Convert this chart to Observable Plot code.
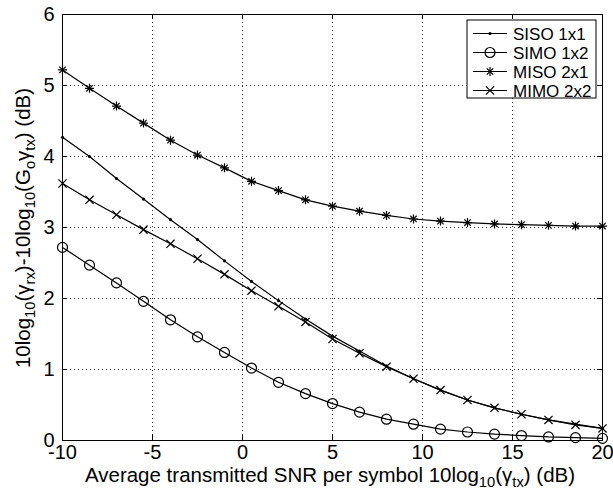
<!DOCTYPE html>
<html>
<head>
<meta charset="utf-8">
<script src="https://cdn.jsdelivr.net/npm/d3@7"></script>
<script src="https://cdn.jsdelivr.net/npm/@observablehq/plot@0.6"></script>
<style>
  html, body { margin: 0; padding: 0; background: #fff; }
  #chart svg { display: block; font-family: "Liberation Sans", Arial, Helvetica, sans-serif; }
</style>
</head>
<body>
<div id="chart"></div>
<script>
const snr = [-10, -8.5, -7, -5.5, -4, -2.5, -1, 0.5, 2, 3.5, 5, 6.5, 8, 9.5, 11, 12.5, 14, 15.5, 17, 18.5, 20];
const siso = [4.27, 4.00, 3.69, 3.40, 3.11, 2.83, 2.53, 2.24, 1.97, 1.71, 1.47, 1.26, 1.05, 0.87, 0.71, 0.57, 0.46, 0.37, 0.29, 0.23, 0.17];
const simo = [2.72, 2.47, 2.22, 1.96, 1.70, 1.46, 1.24, 1.02, 0.82, 0.66, 0.52, 0.40, 0.30, 0.23, 0.16, 0.12, 0.09, 0.07, 0.05, 0.04, 0.03];
const miso = [5.22, 4.96, 4.71, 4.47, 4.23, 4.02, 3.84, 3.65, 3.52, 3.39, 3.30, 3.23, 3.17, 3.12, 3.09, 3.07, 3.05, 3.04, 3.03, 3.02, 3.02];
const mimo = [3.62, 3.39, 3.18, 2.97, 2.77, 2.56, 2.34, 2.11, 1.89, 1.67, 1.43, 1.23, 1.04, 0.87, 0.71, 0.57, 0.46, 0.37, 0.29, 0.22, 0.17];
const seriesNames = ["SISO 1x1", "SIMO 1x2", "MISO 2x1", "MIMO 2x2"];
const xTicks = [-10, -5, 0, 5, 10, 15, 20];
const yTicks = [0, 1, 2, 3, 4, 5, 6];

const toRows = (vals) => snr.map((x, i) => ({x, y: vals[i]}));
const rSiso = toRows(siso), rSimo = toRows(simo), rMiso = toRows(miso), rMimo = toRows(mimo);

const FF = '"Liberation Sans", Arial, Helvetica, sans-serif';
const W = 613, H = 493;
const mL = 62, mR = 11, mT = 14, mB = 53;
const pw = W - mL - mR, ph = H - mT - mB;
const tk = 5;
const tickFont = 20;
const labFont = 20.5;

const plot = Plot.plot({
  width: W, height: H,
  marginLeft: mL, marginRight: mR, marginTop: mT, marginBottom: mB,
  style: {fontFamily: FF, background: "#fff", color: "#000"},
  x: {domain: [-10, 20], ticks: xTicks},
  y: {domain: [0, 6], ticks: yTicks},
  marks: [
    Plot.ruleX(xTicks.slice(1, -1), {stroke: "#000", strokeWidth: 0.8, strokeDasharray: "1,3"}),
    Plot.ruleY(yTicks.slice(1, -1), {stroke: "#000", strokeWidth: 0.8, strokeDasharray: "1,3"}),
    Plot.tickX(xTicks, {stroke: "#000", insetTop: ph - tk}),
    Plot.tickX(xTicks, {stroke: "#000", insetBottom: ph - tk}),
    Plot.tickY(yTicks, {stroke: "#000", insetRight: pw - tk}),
    Plot.tickY(yTicks, {stroke: "#000", insetLeft: pw - tk}),
    Plot.axisX({ticks: xTicks, tickSize: 0, tickPadding: 4, fontSize: tickFont, label: null, tickFormat: d => d}),
    Plot.axisY({ticks: yTicks, tickSize: 0, tickPadding: 8, fontSize: tickFont, label: null, tickFormat: d => d}),
    Plot.frame({stroke: "#000", strokeWidth: 1}),
    Plot.line(rMiso, {x: "x", y: "y", stroke: "#000", strokeWidth: 1.2}),
    Plot.dot(rMiso, {x: "x", y: "y", symbol: "plus", r: 3.0, stroke: "#000", strokeWidth: 1.2}),
    Plot.dot(rMiso, {x: "x", y: "y", symbol: "times", r: 3.0, stroke: "#000", strokeWidth: 1.2}),
    Plot.line(rSiso, {x: "x", y: "y", stroke: "#000", strokeWidth: 1.2}),
    Plot.dot(rSiso, {x: "x", y: "y", r: 1.6, fill: "#000", stroke: "none"}),
    Plot.line(rMimo, {x: "x", y: "y", stroke: "#000", strokeWidth: 1.2}),
    Plot.dot(rMimo, {x: "x", y: "y", symbol: "times", r: 3.8, stroke: "#000", strokeWidth: 1.2}),
    Plot.line(rSimo, {x: "x", y: "y", stroke: "#000", strokeWidth: 1.2}),
    Plot.dot(rSimo, {x: "x", y: "y", symbol: "circle", r: 5, stroke: "#000", fill: "none", strokeWidth: 1.2})
  ]
});

const svg = d3.select(plot);

// x-axis label
const xl = svg.append("text")
  .attr("x", 330).attr("y", 482)
  .attr("text-anchor", "middle")
  .attr("font-family", FF)
  .attr("font-size", labFont).attr("fill", "#000");
xl.append("tspan").text("Average transmitted SNR per symbol 10log");
xl.append("tspan").attr("font-size", labFont * 0.72).attr("dy", 5).text("10");
xl.append("tspan").attr("dy", -5).text("(γ");
xl.append("tspan").attr("font-size", labFont * 0.72).attr("dy", 5).text("tx");
xl.append("tspan").attr("dy", -5).text(") (dB)");

// y-axis label
const yl = svg.append("text")
  .attr("transform", `translate(30, 228) rotate(-90)`)
  .attr("text-anchor", "middle")
  .attr("font-family", FF)
  .attr("font-size", labFont).attr("fill", "#000");
const ypieces = [["10log", 0], ["10", 1], ["(γ", 0], ["rx", 1], [")-10log", 0], ["10", 1], ["(G", 0], ["o", 1], ["γ", 0], ["tx", 1], [") (dB)", 0]];
let prev = 0;
for (const [t, sub] of ypieces) {
  const ts = yl.append("tspan").text(t);
  const want = sub ? 5 : 0;
  ts.attr("dy", want - prev);
  if (sub) ts.attr("font-size", labFont * 0.72);
  prev = want;
}

// legend (decoration, pixel layout)
const lg = svg.append("g");
const lx = 467, ly = 20, lw = 129, lh = 78;
lg.append("rect").attr("x", lx).attr("y", ly).attr("width", lw).attr("height", lh)
  .attr("fill", "#fff").attr("stroke", "#000").attr("stroke-width", 1);
const rowY = [33.5, 52.5, 71.5, 90.5];
seriesNames.forEach((name, i) => {
  const y = rowY[i];
  lg.append("line").attr("x1", lx + 6).attr("x2", lx + 40).attr("y1", y).attr("y2", y)
    .attr("stroke", "#000").attr("stroke-width", 1.2);
  const cx = lx + 23;
  const g = lg.append("g").attr("transform", `translate(${cx},${y})`);
  if (i === 0) g.append("circle").attr("r", 1.6).attr("fill", "#000");
  if (i === 1) g.append("circle").attr("r", 5).attr("fill", "none").attr("stroke", "#000").attr("stroke-width", 1.2);
  if (i === 2) {
    g.append("path").attr("d", d3.symbol(d3.symbolPlus, Math.PI * 9)()).attr("fill", "none").attr("stroke", "#000").attr("stroke-width", 1.2);
    g.append("path").attr("d", d3.symbol(d3.symbolTimes, Math.PI * 9)()).attr("fill", "none").attr("stroke", "#000").attr("stroke-width", 1.2);
  }
  if (i === 3) g.append("path").attr("d", d3.symbol(d3.symbolTimes, Math.PI * 3.8 * 3.8)()).attr("fill", "none").attr("stroke", "#000").attr("stroke-width", 1.2);
  lg.append("text").attr("x", lx + 46).attr("y", y).attr("dy", "0.36em")
    .attr("text-anchor", "start")
    .attr("font-family", FF)
    .attr("font-size", 17).attr("fill", "#000").text(name);
});

document.getElementById("chart").appendChild(plot);
</script>
</body>
</html>
